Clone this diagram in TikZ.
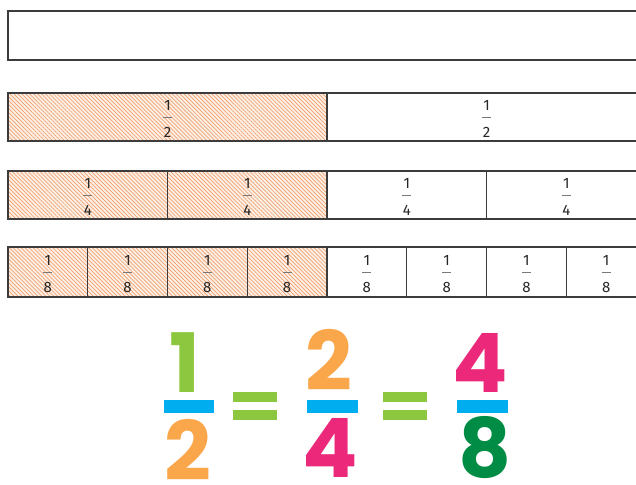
\documentclass[tikz,border=0pt]{standalone}
\usepackage{fontspec}
\setmainfont{Fira Sans}
\newfontfamily\numfont{Poppins}
\usetikzlibrary{patterns.meta}

\definecolor{barline}{RGB}{60,60,60}
\definecolor{hatch}{RGB}{240,160,110}
\definecolor{hatchbg}{RGB}{253,240,230}
\definecolor{fracgray}{RGB}{120,120,120}
\definecolor{lgreen}{RGB}{141,198,63}
\definecolor{dgreen}{RGB}{0,140,68}
\definecolor{numorange}{RGB}{250,166,75}
\definecolor{numpink}{RGB}{236,40,123}
\definecolor{numblue}{RGB}{0,174,239}

\tikzset{
  pics/barfrac/.style 2 args={code={
    \node[fracnum] (-num) at (0,-6.5) {#1};
    \draw[fracline] (-4.5,0) -- (4.5,0);
    \node[fracnum] (-den) at (0,20.5) {#2};
  }}
}

\begin{document}
\begin{tikzpicture}[x=1pt, y=-1pt,
  bar/.style={draw=barline, line width=1.4pt},
  shaded/.style={bar, preaction={fill=hatchbg}, pattern={Lines[angle=-45, distance=2.8pt, line width=0.7pt]}, pattern color=hatch},
  fracnum/.style={anchor=base, inner sep=0pt, font=\fontsize{15}{17}\selectfont, text=black!85},
  fracline/.style={draw=fracgray, line width=0.9pt},
  bignum/.style={anchor=base, inner sep=0pt, font=\numfont\bfseries\fontsize{82}{90}\selectfont},
  fracbar/.style={draw=numblue, line width=13pt},
  eqbar/.style={draw=lgreen, line width=10pt},
]
\useasboundingbox (0,0) rectangle (636,484);
\clip (0,0) rectangle (636,484);

% whole
\draw[bar] (8,11) rectangle (646,60);

% halves
\draw[shaded] (8,93) rectangle (327,141);
\draw[bar] (327,93) rectangle (646,141);
\pic (h1) at (167.5,117) {barfrac={1}{2}};
\pic (h2) at (486.5,117) {barfrac={1}{2}};

% quarters
\foreach \i in {0,1} {
  \draw[shaded] (8+159.5*\i,171) rectangle (167.5+159.5*\i,219);
}
\foreach \i in {2,3} {
  \draw[bar] (8+159.5*\i,171) rectangle (167.5+159.5*\i,219);
}
\foreach \i in {0,...,3} {
  \pic (q\i) at (87.75+159.5*\i,195) {barfrac={1}{4}};
}

% eighths
\foreach \i in {0,...,3} {
  \draw[shaded] (8+79.75*\i,247) rectangle (87.75+79.75*\i,297);
}
\foreach \i in {4,...,7} {
  \draw[bar] (8+79.75*\i,247) rectangle (87.75+79.75*\i,297);
}
\foreach \i in {0,...,7} {
  \pic (e\i) at (47.875+79.75*\i,272) {barfrac={1}{8}};
}

% 1/2 = 2/4 = 4/8
\node[bignum, text=lgreen] (top1) at (185,392) {1};
\draw[fracbar] (164,406) -- (214,406);
\node[bignum, text=numorange] (bot1) at (188,480) {2};

\draw[eqbar] (233,397) -- (277,397);
\draw[eqbar] (233,415) -- (277,415);

\node[bignum, text=numorange] (top2) at (329,390) {2};
\draw[fracbar] (307,406) -- (358,406);
\node[bignum, text=numpink] (bot2) at (330,477) {4};

\draw[eqbar] (383,397) -- (427,397);
\draw[eqbar] (383,415) -- (427,415);

\node[bignum, text=numpink] (top3) at (480,392) {4};
\draw[fracbar] (457,406) -- (508,406);
\node[bignum, text=dgreen] (bot3) at (485,477) {8};
\end{tikzpicture}
\end{document}
